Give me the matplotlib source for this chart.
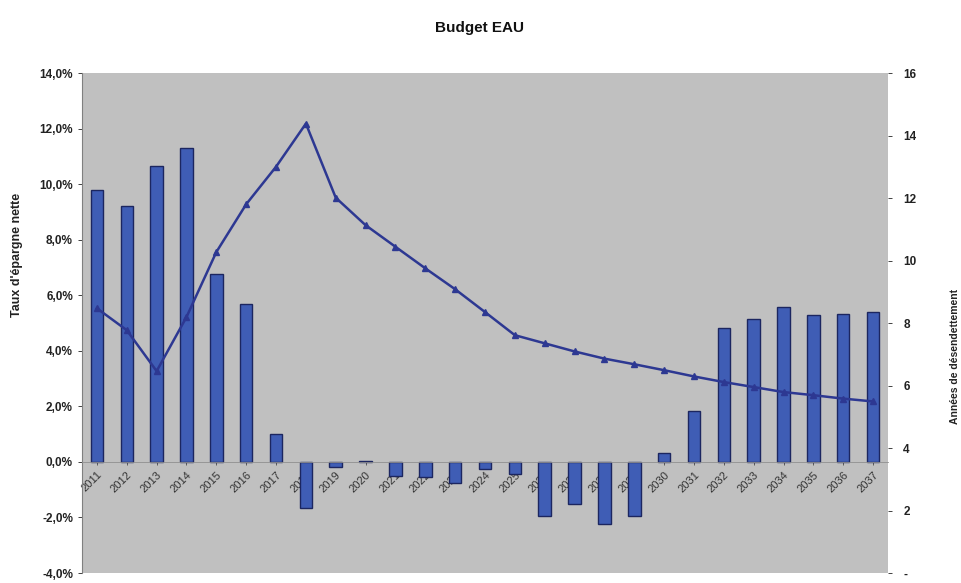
import matplotlib.pyplot as plt
import numpy as np
from matplotlib.ticker import FuncFormatter

plt.rcParams['font.family'] = ['Liberation Sans', 'DejaVu Sans']

years = [str(y) for y in range(2011, 2038)]
taux_epargne = [9.8, 9.2, 10.65, 11.3, 6.75, 5.7, 1.0, -1.65, -0.2, 0.05,
                -0.5, -0.55, -0.75, -0.27, -0.43, -1.93, -1.5, -2.25, -1.93, 0.33,
                1.85, 4.82, 5.15, 5.57, 5.3, 5.32, 5.39]
annees_desendettement = [8.47, 7.77, 6.46, 8.19, 10.27, 11.8, 13.0, 14.38, 12.01, 11.13,
                         10.44, 9.75, 9.08, 8.35, 7.61, 7.35, 7.09, 6.86, 6.68, 6.49,
                         6.29, 6.11, 5.95, 5.79, 5.69, 5.58, 5.49]

bar_color = '#3f5db5'
edge_color = '#1c2660'
line_color = '#2d3892'
text_color = '#222222'

fig = plt.figure(figsize=(9.62, 5.83), dpi=100)
ax = fig.add_axes([82/962, 1-573/583, (888-82)/962, (573-73)/583])
ax.set_facecolor('#c0c0c0')

x = np.arange(len(years))
ax.bar(x, taux_epargne, width=0.42, color=bar_color, edgecolor=edge_color, linewidth=1.0, zorder=2)
ax.set_xlim(-0.5, len(years)-0.5)
ax.set_ylim(-4, 14)
ax.set_yticks(np.arange(-4, 15, 2))
ax.yaxis.set_major_formatter(FuncFormatter(lambda v, p: ('%.1f%%' % v).replace('.', ',')))
ax.tick_params(axis='y', labelsize=8.5, colors=text_color, length=3, width=0.6)
for lab in ax.get_yticklabels():
    lab.set_fontweight('bold')

ax.spines['bottom'].set_position(('data', 0))
ax.spines['bottom'].set_color('#909090')
ax.spines['bottom'].set_linewidth(0.6)
ax.spines['top'].set_visible(False)
ax.spines['right'].set_visible(False)
ax.spines['left'].set_color('#808080')
ax.set_xticks(x)
ax.set_xticklabels(years, rotation=45, ha='right', va='top', rotation_mode='anchor')
ax.tick_params(axis='x', labelsize=8, colors='#333333', length=2, width=0.5)

ax2 = ax.twinx()
ax2.plot(x, annees_desendettement, color=line_color, linewidth=1.8, marker='^',
         markersize=5, markerfacecolor=line_color, markeredgecolor=line_color, zorder=3)
ax2.set_ylim(0, 16)
ax2.set_yticks(np.arange(0, 17, 2))
ax2.set_yticklabels(['-'] + [str(v) for v in range(2, 17, 2)])
ax2.tick_params(axis='y', labelsize=8.5, colors=text_color, length=3, width=0.6, pad=8)
for lab in ax2.get_yticklabels():
    lab.set_fontweight('bold')
for s in ax2.spines.values():
    s.set_visible(False)

fig.text(480/962, 1-28/583, 'Budget EAU', ha='center', va='center',
         fontsize=11, fontweight='bold', color='#111111')
fig.text(17/962, 1-255/583, "Taux d'épargne nette", rotation=90, ha='center', va='center',
         fontsize=9, fontweight='bold', color=text_color)
fig.text(955/962, 1-356/583, 'Années de désendettement', rotation=90, ha='center', va='center',
         fontsize=7.5, fontweight='bold', color=text_color)

plt.savefig('out.png', dpi=100)
